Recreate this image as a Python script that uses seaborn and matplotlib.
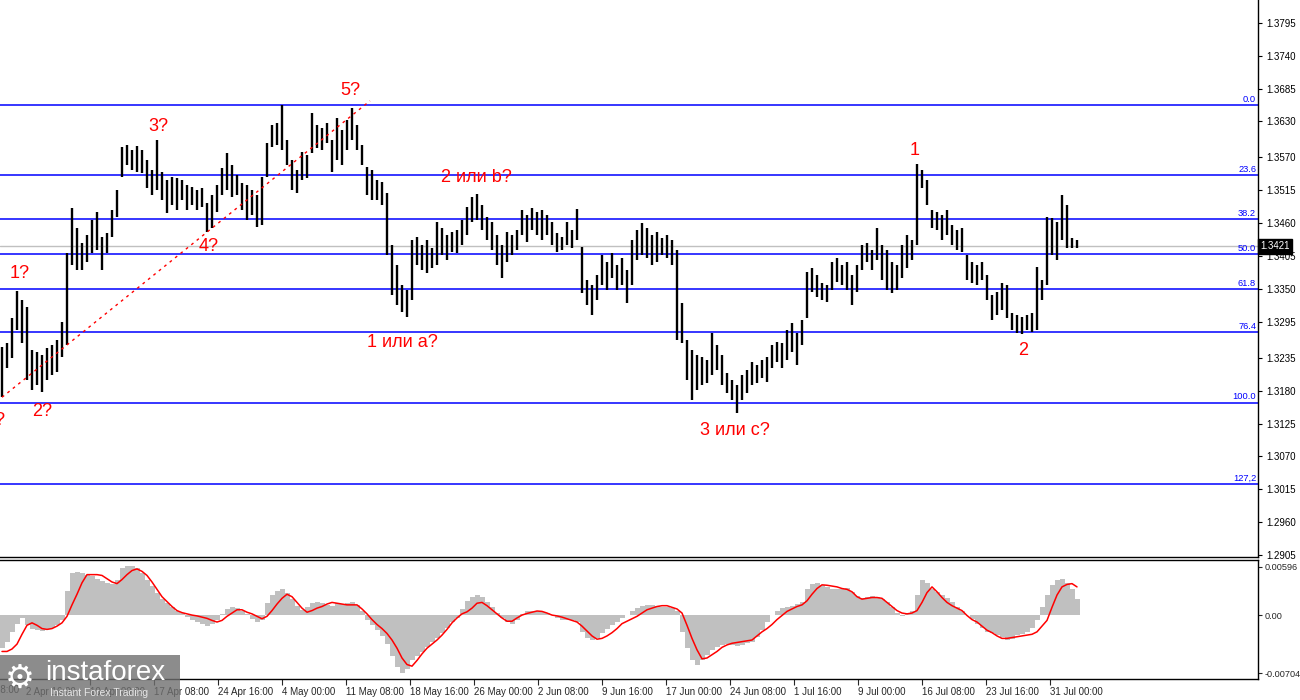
import numpy as np
import pandas as pd
import matplotlib
matplotlib.use("Agg")
import matplotlib.pyplot as plt
from matplotlib.patches import Rectangle
import seaborn as sns

# === H4 price bars (one entry per bar) ===
high = [
    1.3253, 1.3260, 1.3301, 1.3346, 1.3332, 1.3320, 1.3248, 1.3244, 1.3239, 1.3251,
    1.3256, 1.3265, 1.3295, 1.3410, 1.3485, 1.3452, 1.3427, 1.3440, 1.3465, 1.3479,
    1.3437, 1.3443, 1.3482, 1.3515, 1.3587, 1.3591, 1.3582, 1.3589, 1.3582, 1.3565,
    1.3549, 1.3599, 1.3545, 1.3532, 1.3537, 1.3535, 1.3532, 1.3524, 1.3520, 1.3515,
    1.3519, 1.3494, 1.3507, 1.3524, 1.3552, 1.3577, 1.3557, 1.3540, 1.3527, 1.3524,
    1.3515, 1.3507, 1.3537, 1.3594, 1.3624, 1.3627, 1.3657, 1.3599, 1.3565, 1.3549,
    1.3579, 1.3574, 1.3644, 1.3624, 1.3619, 1.3627, 1.3599, 1.3636, 1.3616, 1.3632,
    1.3652, 1.3624, 1.3591, 1.3554, 1.3549, 1.3532, 1.3529, 1.3510, 1.3423, 1.3390,
    1.3357, 1.3348, 1.3432, 1.3437, 1.3423, 1.3432, 1.3418, 1.3462, 1.3452, 1.3440,
    1.3445, 1.3448, 1.3465, 1.3487, 1.3504, 1.3509, 1.3490, 1.3470, 1.3462, 1.3440,
    1.3423, 1.3445, 1.3440, 1.3448, 1.3482, 1.3474, 1.3485, 1.3479, 1.3482, 1.3474,
    1.3462, 1.3443, 1.3437, 1.3462, 1.3448, 1.3484, 1.3420, 1.3365, 1.3357, 1.3373,
    1.3407, 1.3395, 1.3410, 1.3390, 1.3402, 1.3382, 1.3432, 1.3448, 1.3460, 1.3452,
    1.3440, 1.3445, 1.3435, 1.3440, 1.3432, 1.3415, 1.3327, 1.3265, 1.3248, 1.3239,
    1.3236, 1.3231, 1.3276, 1.3256, 1.3239, 1.3209, 1.3198, 1.3189, 1.3206, 1.3214,
    1.3228, 1.3223, 1.3231, 1.3236, 1.3256, 1.3261, 1.3260, 1.3281, 1.3293, 1.3276,
    1.3298, 1.3378, 1.3385, 1.3373, 1.3360, 1.3357, 1.3395, 1.3402, 1.3390, 1.3395,
    1.3373, 1.3390, 1.3423, 1.3427, 1.3415, 1.3452, 1.3423, 1.3415, 1.3395, 1.3390,
    1.3423, 1.3440, 1.3432, 1.3559, 1.3549, 1.3532, 1.3482, 1.3479, 1.3474, 1.3482,
    1.3457, 1.3448, 1.3452, 1.3407, 1.3395, 1.3390, 1.3395, 1.3373, 1.3340, 1.3345,
    1.3360, 1.3357, 1.3310, 1.3306, 1.3303, 1.3306, 1.3310, 1.3387, 1.3365, 1.3470,
    1.3468, 1.3462, 1.3507, 1.3490, 1.3435, 1.3432,
]
low = [
    1.3169, 1.3218, 1.3234, 1.3281, 1.3260, 1.3198, 1.3181, 1.3189, 1.3178, 1.3198,
    1.3206, 1.3211, 1.3236, 1.3256, 1.3390, 1.3382, 1.3382, 1.3395, 1.3410, 1.3415,
    1.3382, 1.3410, 1.3437, 1.3470, 1.3537, 1.3557, 1.3549, 1.3545, 1.3544, 1.3519,
    1.3507, 1.3515, 1.3499, 1.3477, 1.3490, 1.3482, 1.3499, 1.3482, 1.3490, 1.3482,
    1.3487, 1.3445, 1.3452, 1.3479, 1.3507, 1.3515, 1.3504, 1.3507, 1.3482, 1.3465,
    1.3474, 1.3453, 1.3457, 1.3537, 1.3587, 1.3591, 1.3582, 1.3557, 1.3515, 1.3510,
    1.3532, 1.3535, 1.3577, 1.3586, 1.3582, 1.3594, 1.3545, 1.3565, 1.3557, 1.3582,
    1.3599, 1.3582, 1.3557, 1.3507, 1.3499, 1.3499, 1.3490, 1.3407, 1.3340, 1.3323,
    1.3311, 1.3303, 1.3332, 1.3390, 1.3382, 1.3377, 1.3385, 1.3390, 1.3407, 1.3398,
    1.3412, 1.3410, 1.3423, 1.3440, 1.3462, 1.3465, 1.3448, 1.3432, 1.3415, 1.3390,
    1.3368, 1.3395, 1.3407, 1.3415, 1.3440, 1.3428, 1.3448, 1.3440, 1.3432, 1.3440,
    1.3423, 1.3412, 1.3415, 1.3423, 1.3418, 1.3432, 1.3343, 1.3323, 1.3306, 1.3332,
    1.3357, 1.3348, 1.3368, 1.3348, 1.3357, 1.3327, 1.3357, 1.3398, 1.3407, 1.3402,
    1.3390, 1.3395, 1.3407, 1.3402, 1.3390, 1.3265, 1.3260, 1.3198, 1.3164, 1.3181,
    1.3189, 1.3193, 1.3206, 1.3214, 1.3189, 1.3176, 1.3164, 1.3142, 1.3164, 1.3176,
    1.3189, 1.3193, 1.3201, 1.3194, 1.3218, 1.3228, 1.3218, 1.3231, 1.3244, 1.3223,
    1.3256, 1.3301, 1.3345, 1.3337, 1.3332, 1.3328, 1.3348, 1.3362, 1.3357, 1.3348,
    1.3323, 1.3345, 1.3382, 1.3395, 1.3382, 1.3398, 1.3365, 1.3348, 1.3343, 1.3348,
    1.3368, 1.3385, 1.3398, 1.3423, 1.3519, 1.3490, 1.3452, 1.3448, 1.3432, 1.3440,
    1.3423, 1.3415, 1.3412, 1.3365, 1.3360, 1.3357, 1.3365, 1.3332, 1.3298, 1.3306,
    1.3315, 1.3301, 1.3281, 1.3276, 1.3275, 1.3281, 1.3278, 1.3281, 1.3332, 1.3357,
    1.3407, 1.3398, 1.3432, 1.3418, 1.3418, 1.3418,
]

# === MACD (values x 1e-3): main = grey histogram, signal = red line ===
macd_main_e3 = [
    -4.0, -3.2, -2.0, -1.0, -0.3, -1.2, -1.6, -1.8, -1.9, -1.7,
    -1.5, -1.2, -0.6, 3.0, 5.2, 5.3, 5.2, 5.0, 4.8, 4.5,
    4.2, 4.0, 3.9, 4.4, 5.8, 6.1, 6.0, 5.8, 5.2, 4.4,
    3.6, 2.8, 2.0, 1.5, 1.0, 0.6, 0.3, -0.2, -0.5, -0.8,
    -1.1, -1.3, -1.0, -0.6, 0.2, 0.8, 1.0, 0.9, 0.6, 0.2,
    -0.4, -0.8, -0.5, 1.5, 2.5, 3.0, 3.2, 2.8, 2.0, 1.2,
    0.7, 1.0, 1.5, 1.6, 1.5, 1.3, 1.2, 1.5, 1.4, 1.5,
    1.6, 1.3, 0.5, -0.5, -1.2, -1.8, -2.5, -3.5, -5.0, -6.3,
    -7.0, -6.5, -5.5, -5.0, -4.5, -3.8, -3.3, -2.8, -2.2, -1.5,
    -0.8, -0.3, 0.8, 1.8, 2.3, 2.5, 2.3, 1.6, 1.0, 0.3,
    -0.3, -0.8, -1.0, -0.6, 0.2, 0.5, 0.6, 0.5, 0.4, 0.3,
    0.0, -0.3, -0.6, -0.6, -0.5, -0.8, -2.0, -2.8, -3.0, -2.8,
    -2.2, -1.7, -1.2, -0.8, -0.3, 0.0, 0.5, 0.9, 1.2, 1.3,
    1.3, 1.2, 1.0, 1.0, 0.9, 0.5, -2.0, -4.0, -5.5, -6.1,
    -5.5, -4.8, -4.2, -3.8, -3.6, -3.5, -3.6, -3.7, -3.6, -3.4,
    -3.2, -2.6, -1.8, -0.8, 0.0, 0.6, 0.9, 1.1, 1.2, 1.4,
    1.6, 3.2, 3.9, 4.0, 3.7, 3.5, 3.3, 3.2, 3.3, 3.4,
    2.9, 2.4, 2.2, 2.3, 2.4, 2.3, 2.0, 1.6, 1.0, 0.3,
    -0.1, 0.2, 0.5, 2.5, 4.3, 4.0, 3.3, 2.9, 2.5, 2.2,
    1.6, 1.1, 0.5, 0.0, -0.4, -1.0, -1.5, -2.0, -2.2, -2.4,
    -2.6, -3.0, -2.9, -2.4, -2.3, -2.0, -1.5, -0.5, 1.0, 2.5,
    3.7, 4.3, 4.5, 4.0, 3.2, 2.0,
]
macd_signal_e3 = [
    -4.4, -4.4, -4.1, -3.5, -2.3, -1.2, -0.9, -1.2, -1.6, -1.7,
    -1.6, -1.3, -0.9, -0.1, 1.3, 2.6, 4.0, 5.0, 5.0, 5.0,
    4.9, 4.5, 4.1, 3.9, 4.4, 5.0, 5.5, 5.7, 5.4, 4.9,
    4.1, 3.2, 2.3, 1.7, 1.1, 0.6, 0.35, 0.2, 0.05, -0.05,
    -0.2, -0.35, -0.6, -0.8, -0.6, -0.1, 0.3, 0.7, 0.7, 0.4,
    0.2, -0.1, -0.4, -0.1, 0.6, 1.4, 2.1, 2.6, 2.3, 1.6,
    0.9, 0.4, 0.6, 0.9, 1.1, 1.4, 1.6, 1.5, 1.4, 1.3,
    1.3, 1.3, 0.8, 0.2, -0.5, -1.1, -1.6, -2.2, -3.0, -4.0,
    -5.2, -6.0, -6.2, -5.5, -4.7, -4.0, -3.5, -3.0, -2.4, -1.7,
    -0.9, -0.3, 0.2, 0.45, 0.9, 1.5, 1.6, 1.2, 0.7, 0.2,
    -0.3, -0.7, -0.7, -0.3, 0.05, 0.25, 0.4, 0.55, 0.5, 0.3,
    0.05, -0.05, -0.2, -0.4, -0.6, -0.8, -1.3, -1.9, -2.5, -2.9,
    -2.8, -2.5, -2.1, -1.6, -1.0, -0.7, -0.4, -0.1, 0.3, 0.7,
    0.9, 1.1, 1.2, 1.2, 1.0, 0.8, 0.3, -1.2, -2.8, -4.2,
    -5.3, -5.2, -4.8, -4.4, -3.9, -3.6, -3.4, -3.3, -3.2, -3.1,
    -3.0, -2.5, -2.0, -1.6, -1.1, -0.5, 0.0, 0.5, 0.8, 1.1,
    1.3, 1.8, 2.6, 3.3, 3.75, 3.7, 3.6, 3.5, 3.3, 3.2,
    2.9, 2.3, 2.0, 2.1, 2.2, 2.2, 2.1, 1.6, 1.1, 0.6,
    0.3, 0.2, 0.3, 0.6, 1.6, 2.8, 3.5, 2.9, 2.2, 1.6,
    1.2, 0.9, 0.6, 0.0, -0.5, -0.8, -1.3, -1.8, -2.1, -2.5,
    -2.8, -2.8, -2.7, -2.6, -2.5, -2.4, -2.3, -2.0, -1.3, -0.6,
    1.0, 2.5, 3.5, 3.8, 3.9, 3.5,
]

# === axis texts ===
price_ticks = [1.2905, 1.2960, 1.3015, 1.3070, 1.3125, 1.3180, 1.3235, 1.3295, 1.3350,
               1.3405, 1.3460, 1.3515, 1.3570, 1.3630, 1.3685, 1.3740, 1.3795]
macd_ticks = [0.00596, 0.0, -0.00704]
macd_tick_labels = ["0.00596", "0.00", "-0.00704"]
date_labels = ["2 Apr 16:00", "10 Apr 00:00", "17 Apr 08:00", "24 Apr 16:00", "4 May 00:00",
               "11 May 08:00", "18 May 16:00", "26 May 00:00", "2 Jun 08:00", "9 Jun 16:00",
               "17 Jun 00:00", "24 Jun 08:00", "1 Jul 16:00", "9 Jul 00:00", "16 Jul 08:00",
               "23 Jul 16:00", "31 Jul 00:00"]
first_cut_label = "26 Mar 08:00"

# Fibonacci grid
fib_high, fib_low = 1.3657, 1.3160
fib_ratios = [0.0, 23.6, 38.2, 50.0, 61.8, 76.4, 100.0, 127.2]
fib_labels = ["0.0", "23.6", "38.2", "50.0", "61.8", "76.4", "100.0", "127,2"]
last_price = 1.3421

# wave marks: text, bar, anchor ('high'/'low'), dx, dy (points)
waves = [
    ("5?", 0, "low", -4.5, -17),
    ("1?", 3, "high", 2, 13),
    ("2?", 8, "low", 0, -14),
    ("3?", 31, "high", 1, 9.5),
    ("4?", 41, "low", 1, -10),
    ("5?", 70, "high", -1, 13),
    ("1 или a?", 81, "low", -3.5, -18.5),
    ("2 или b?", 95, "high", -0.5, 11.5),
    ("3 или c?", 147, "low", -1.5, -12.2),
    ("1", 183, "high", -1.5, 10),
    ("2", 204, "low", 0.5, -12.2),
]
trend_bars = (0, 41)  # trend line through these two lows

# === figure ===
sns.set_style("white")
plt.rcParams["font.family"] = ["Liberation Sans", "DejaVu Sans"]

W, H = 1300, 700
fig = plt.figure(figsize=(13, 7), dpi=100)
ax = fig.add_axes([0, 1 - 557 / H, 1258 / W, 557 / H])
axm = fig.add_axes([0, 1 - 679 / H, 1258 / W, 119 / H])

idx = np.arange(len(high))
hi = np.array(high)
lo = np.array(low)
xlim = (-0.4, 251.2)

# price bars
ax.vlines(idx, lo, hi, color="black", lw=1.7, zorder=3)

# fib levels
for r, lab in zip(fib_ratios, fib_labels):
    lvl = fib_high - r / 100.0 * (fib_high - fib_low)
    ax.axhline(lvl, color="#0000ff", lw=1.1, zorder=2)
    ax.text(0.9985, lvl + 0.0002, lab, transform=ax.get_yaxis_transform(),
            ha="right", va="bottom", color="#0000ff", fontsize=6.7)

ax.axhline(last_price, color="#c0c0c0", lw=1, zorder=1)
ax.text(1.0015, last_price, f"{last_price:.4f}", transform=ax.get_yaxis_transform(),
        ha="left", va="center", color="white", fontsize=7, clip_on=False,
        bbox=dict(facecolor="black", edgecolor="black", pad=1.6))

# dotted trend line
b0, b1 = trend_bars
slope = (lo[b1] - lo[b0]) / (b1 - b0)
tx = np.array([b0, 73.6])
ax.plot(tx, lo[b0] + slope * (tx - b0), color="red", lw=1, ls=(0, (2, 3)), zorder=4)

# wave labels
for text, b, side, dx, dy in waves:
    y = hi[b] if side == "high" else lo[b]
    ax.annotate(text, xy=(b, y), xytext=(dx, dy), textcoords="offset points",
                ha="center", va="center", color="#ff0000", fontsize=13,
                annotation_clip=False, zorder=5)

ax.set_xlim(*xlim)
ax.set_ylim(1.2902, 1.3833)
ax.set_xticks([])
ax.yaxis.tick_right()
ax.set_yticks(price_ticks)
ax.set_yticklabels([f"{t:.4f}" for t in price_ticks])
ax.tick_params(axis="y", direction="out", length=3, width=0.8, pad=3, labelsize=7, colors="black")
for s in ("left", "top"):
    ax.spines[s].set_visible(False)
for s in ("right", "bottom"):
    ax.spines[s].set_color("black")
    ax.spines[s].set_linewidth(1)

# MACD panel
macd_df = pd.DataFrame({"bar": idx,
                        "main": np.array(macd_main_e3) * 1e-3,
                        "signal": np.array(macd_signal_e3) * 1e-3})
axm.bar(macd_df["bar"], macd_df["main"], width=1.0, color="#c0c0c0", lw=0)
sns.lineplot(data=macd_df, x="bar", y="signal", ax=axm, color="red", lw=1.1)
axm.set_xlim(*xlim)
axm.set_ylim(-0.00777, 0.00679)
axm.set_xlabel("")
axm.set_ylabel("")
axm.yaxis.tick_right()
axm.set_yticks(macd_ticks)
axm.set_yticklabels(macd_tick_labels)
axm.tick_params(axis="y", direction="out", length=3, width=0.8, pad=2, labelsize=6.6)

# date axis: one label every 64 px (12.8 bars of this grid)
tick_bars = [4.8 + 12.8 * k for k in range(len(date_labels))]
axm.set_xticks(tick_bars)
axm.set_xticklabels(date_labels, ha="left")
axm.tick_params(axis="x", direction="out", length=4, width=0.8, pad=2, labelsize=7, bottom=True)
axm.text(4.8 - 12.8, -0.05, first_cut_label, transform=axm.get_xaxis_transform(),
         ha="left", va="top", fontsize=7, clip_on=False)
axm.spines["left"].set_visible(False)
for s in ("right", "bottom", "top"):
    axm.spines[s].set_color("black")
    axm.spines[s].set_linewidth(1)

# logo block, bottom left
fig.patches.append(Rectangle((0, 0), 180 / W, 45 / H, transform=fig.transFigure,
                             facecolor="#6f6f6f", edgecolor="none", alpha=0.8, zorder=5))
fig.text(5 / W, 22 / H, "\u2699", family=["DejaVu Sans"], fontsize=24, color="white",
         ha="left", va="center", zorder=6)
fig.text(45 / W, 27 / H, "instaforex", fontsize=20, color="white", ha="left", va="center", zorder=6)
fig.text(50 / W, 7 / H, "Instant Forex Trading", fontsize=7.5, color="#e6e6e6",
         ha="left", va="center", zorder=6)

fig.savefig("out.png", dpi=100)
